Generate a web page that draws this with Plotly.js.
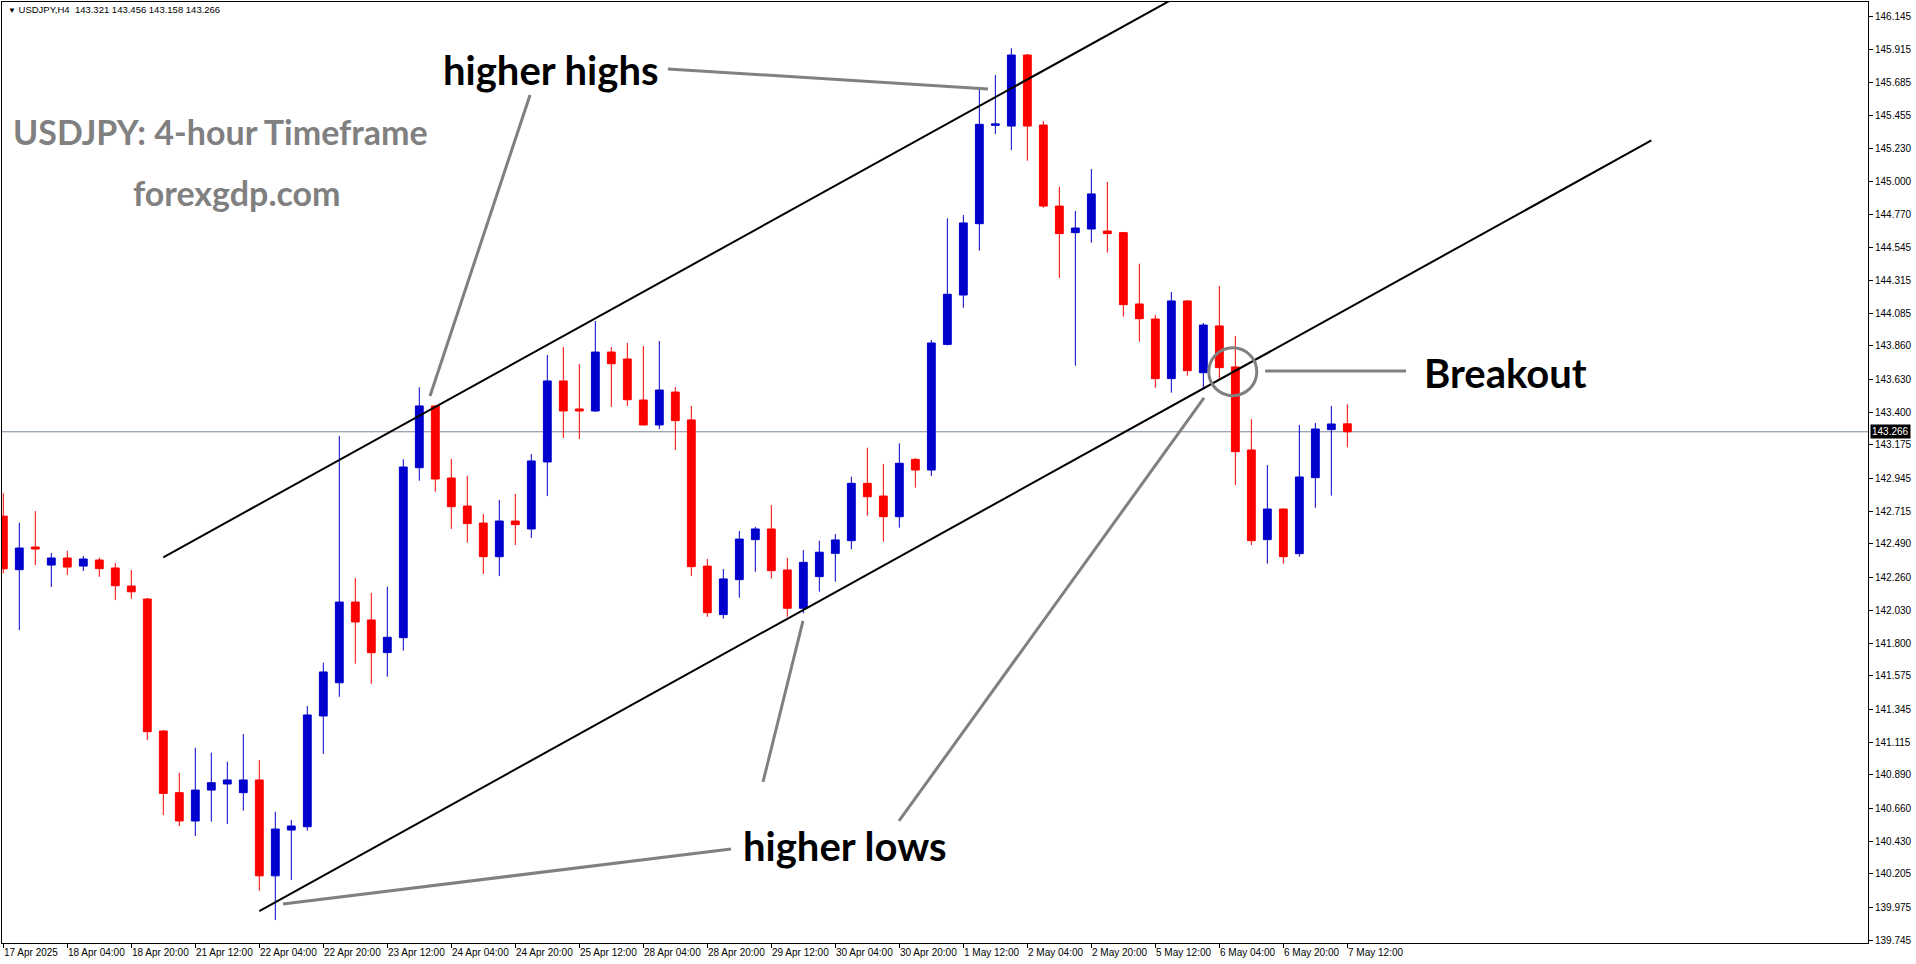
<!DOCTYPE html>
<html>
<head>
<meta charset="utf-8">
<script src="https://cdn.plot.ly/plotly-3.0.1.min.js"></script>
<style>
html,body{margin:0;padding:0;background:#fff;}
#chart{width:1916px;height:964px;}
</style>
</head>
<body>
<div id="chart"></div>
<script>
// ---- Data (USDJPY H4, 17 Apr 2025 12:00 .. 7 May 2025 12:00) ----
const openP  = [142.682,142.311,142.468,142.343,142.392,142.336,142.378,142.323,142.198,142.108,
                141.194,140.767,140.571,140.785,140.827,140.767,140.855,140.191,140.508,140.531,
                141.298,141.528,142.087,141.963,141.737,141.840,143.017,143.445,142.946,142.752,
                142.634,142.401,142.648,142.593,143.057,143.618,143.424,143.410,143.818,143.770,
                143.486,143.313,143.541,143.348,142.336,142.000,142.242,142.519,142.593,142.309,
                142.044,142.263,142.424,142.512,142.909,142.821,142.678,143.075,143.001,143.871,
                144.213,144.707,145.388,145.383,145.875,145.390,144.829,144.645,144.670,144.656,
                144.645,144.151,144.047,143.634,144.172,143.675,143.999,143.715,143.140,142.519,
                142.731,142.422,142.948,143.281,143.321];
const highP  = [142.840,142.636,142.717,142.426,142.442,142.406,142.394,142.357,142.309,142.115,
                141.201,140.905,141.078,141.044,140.981,141.173,140.993,140.635,140.578,141.367,
                141.667,143.237,142.254,142.150,142.193,143.076,143.574,143.450,143.078,142.962,
                142.697,142.794,142.835,143.112,143.798,143.853,143.735,144.033,143.853,143.881,
                143.860,143.895,143.576,143.445,142.385,142.316,142.579,142.607,142.759,142.394,
                142.447,142.512,142.558,142.955,143.156,143.043,143.186,143.084,143.902,144.744,
                144.767,145.651,145.737,145.922,145.882,145.418,144.963,144.795,145.086,144.996,
                144.650,144.430,144.075,144.234,144.179,144.019,144.275,143.929,143.354,143.036,
                142.736,143.313,143.327,143.445,143.456];
const lowP   = [142.285,141.893,142.343,142.191,142.274,142.302,142.262,142.101,142.110,141.131,
                140.612,140.536,140.467,140.566,140.550,140.642,140.088,139.885,140.162,140.504,
                141.035,141.431,141.660,141.521,141.570,141.750,142.927,142.851,142.593,142.498,
                142.281,142.267,142.482,142.530,142.821,143.223,143.216,143.403,143.438,143.445,
                143.310,143.285,143.140,142.267,141.985,141.972,142.117,142.297,142.249,141.985,
                142.009,142.159,142.228,142.452,142.685,142.505,142.602,142.879,142.960,143.864,
                144.125,144.520,145.328,145.217,145.143,144.817,144.331,143.724,144.575,144.506,
                144.063,143.890,143.571,143.537,143.654,143.560,143.625,142.897,142.482,142.353,
                142.353,142.401,142.740,142.824,143.158];
const closeP = [142.317,142.461,142.454,142.392,142.329,142.385,142.318,142.200,142.158,141.189,
                140.762,140.571,140.785,140.836,140.855,140.855,140.191,140.515,140.536,141.305,
                141.603,142.087,141.949,141.736,141.843,143.022,143.445,142.939,142.747,142.630,
                142.401,142.648,142.623,143.064,143.618,143.410,143.410,143.818,143.737,143.488,
                143.313,143.555,143.343,142.332,142.013,142.247,142.523,142.593,142.304,142.044,
                142.362,142.432,142.517,142.909,142.816,142.678,143.048,143.001,143.881,144.218,
                144.712,145.395,145.398,145.875,145.383,144.829,144.638,144.677,144.913,144.638,
                144.146,144.049,143.634,144.172,143.689,144.005,143.710,143.128,142.512,142.731,
                142.401,142.953,143.285,143.320,143.266];

// x-axis time labels (bar index -> label)
const tickIdx    = [0,4,8,12,16,20,24,28,32,36,40,44,48,52,56,60,64,68,72,76,80,84];
const tickLabels = ["17 Apr 2025","18 Apr 04:00","18 Apr 20:00","21 Apr 12:00","22 Apr 04:00",
                    "22 Apr 20:00","23 Apr 12:00","24 Apr 04:00","24 Apr 20:00","25 Apr 12:00",
                    "28 Apr 04:00","28 Apr 20:00","29 Apr 12:00","30 Apr 04:00","30 Apr 20:00",
                    "1 May 12:00","2 May 04:00","2 May 20:00","5 May 12:00","6 May 04:00",
                    "6 May 20:00","7 May 12:00"];
// price axis labels
const priceTicks = [146.145,145.915,145.685,145.455,145.230,145.000,144.770,144.545,144.315,144.085,
                    143.860,143.630,143.400,143.175,142.945,142.715,142.490,142.260,142.030,141.800,
                    141.575,141.345,141.115,140.890,140.660,140.430,140.205,139.975,139.745];
const currentPrice = 143.266;
const headerText = "USDJPY,H4  143.321 143.456 143.158 143.266";

// channel trend lines (bar index, price)
const upperLineX = [10.0, 74.0];
const upperLineY = [142.397, 146.318];
const lowerLineX = [16.0, 103.0];
const lowerLineY = [139.947, 145.283];

// annotation pointer lines (bar index / price)
const ptrX0 = [32.92, 41.54, 45.48, 47.48, 55.98, 78.86];
const ptrY0 = [145.598, 145.778, 140.377, 140.841, 140.571, 143.687];
const ptrX1 = [26.67, 61.54, 17.48, 49.98, 75.04, 87.67];
const ptrY1 = [143.514, 145.640, 139.996, 141.956, 143.500, 143.687];
// breakout circle
const circleX = [75.34, 78.34];
const circleY = [143.516, 143.848];

// labels
const labelTexts = ["higher highs","higher lows","Breakout"];
const labelX = [34.23, 52.6, 93.86];
const labelY = [145.771, 140.397, 143.673];
const titleTexts = ["USDJPY: 4-hour Timeframe","forexgdp.com"];
const titleX = [13.57, 14.61];
const titleY = [145.342, 144.926];

// ---- Build chart ----
const xIdx = openP.map((_, i) => i);
const BLUE = '#0000CD', RED = '#FF0000', GRAY = '#808080';
const tickFont = {family: 'Liberation Sans, Arial, sans-serif', size: 10, color: '#000'};

const traces = [
  {type:'scatter', mode:'lines', x: upperLineX, y: upperLineY,
   line:{color:'#000', width:2}, hoverinfo:'skip', showlegend:false},
  {type:'scatter', mode:'lines', x: lowerLineX, y: lowerLineY,
   line:{color:'#000', width:2}, hoverinfo:'skip', showlegend:false},
  {type:'candlestick', x: xIdx, open: openP, high: highP, low: lowP, close: closeP,
   increasing:{line:{color:BLUE, width:1}, fillcolor:BLUE},
   decreasing:{line:{color:RED, width:1}, fillcolor:RED},
   whiskerwidth:0, hoverinfo:'skip', showlegend:false}
];

const shapes = [];
shapes.push({type:'line', xref:'paper', yref:'y', x0:0, x1:1, y0:currentPrice, y1:currentPrice,
             line:{color:'#778899', width:1}, layer:'below'});
for (let k = 0; k < ptrX0.length; k++) {
  shapes.push({type:'line', xref:'x', yref:'y', x0:ptrX0[k], y0:ptrY0[k], x1:ptrX1[k], y1:ptrY1[k],
               line:{color:GRAY, width:3}});
}
shapes.push({type:'circle', xref:'x', yref:'y', x0:circleX[0], x1:circleX[1], y0:circleY[0], y1:circleY[1],
             line:{color:GRAY, width:3}});

const annotations = [];
annotations.push({xref:'paper', yref:'paper', x:0.002, y:0.9915, xanchor:'left', yanchor:'middle',
  text:'<span style="font-size:8px">▼</span> ' + headerText, showarrow:false,
  font:{family:'Liberation Sans, Arial, sans-serif', size:9.5, color:'#000'}});
for (let k = 0; k < labelTexts.length; k++) {
  annotations.push({xref:'x', yref:'y', x:labelX[k], y:labelY[k], text:'<b>'+labelTexts[k]+'</b>',
    showarrow:false, xanchor:'center', yanchor:'middle',
    font:{family:'Lato, sans-serif', size:40, color:'#000'}});
}
for (let k = 0; k < titleTexts.length; k++) {
  annotations.push({xref:'x', yref:'y', x:titleX[k], y:titleY[k], text:'<b>'+titleTexts[k]+'</b>',
    showarrow:false, xanchor:'center', yanchor:'middle',
    font:{family:'Lato, sans-serif', size:34, color:GRAY}});
}
for (let k = 0; k < tickIdx.length; k++) {
  annotations.push({xref:'x', yref:'paper', x:tickIdx[k], y:0, yanchor:'top', xanchor:'left',
    yshift:-2, xshift:-1, text:tickLabels[k], showarrow:false, font:tickFont});
}
annotations.push({xref:'paper', yref:'y', x:1, y:currentPrice, xanchor:'left', yanchor:'middle',
  xshift:2, text:currentPrice.toFixed(3), showarrow:false, bgcolor:'#000', borderpad:1,
  font:{family:'Liberation Sans, Arial, sans-serif', size:10, color:'#fff'}});

const layout = {
  width:1916, height:964,
  margin:{l:2, r:48, t:2, b:21, pad:0},
  paper_bgcolor:'#fff', plot_bgcolor:'#fff',
  showlegend:false,
  xaxis:{range:[-0.081, 116.54], showgrid:false, zeroline:false, showline:true, mirror:true,
         linecolor:'#000', linewidth:1, ticks:'outside', ticklen:4, tickcolor:'#000',
         tickvals:tickIdx, showticklabels:false, rangeslider:{visible:false}, fixedrange:true},
  yaxis:{range:[139.726, 146.242], side:'right', showgrid:false, zeroline:false, showline:true,
         mirror:true, linecolor:'#000', linewidth:1, ticks:'outside', ticklen:4, tickcolor:'#000',
         tickvals:priceTicks, tickformat:'.3f', tickfont:tickFont, fixedrange:true},
  shapes: shapes,
  annotations: annotations,
  hovermode:false
};

Plotly.newPlot('chart', traces, layout, {displayModeBar:false, staticPlot:true});
</script>
</body>
</html>
